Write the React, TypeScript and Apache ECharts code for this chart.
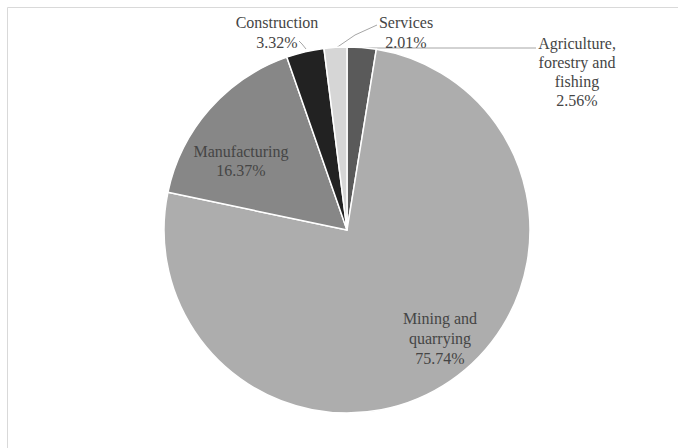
import React, { useEffect, useRef } from "react";
import * as echarts from "echarts";

const categories = [
  "Agriculture,\nforestry and\nfishing",
  "Mining and\nquarrying",
  "Manufacturing",
  "Construction",
  "Services",
];
const shares = [2.56, 75.74, 16.37, 3.32, 2.01];
const colors = ["#5a5a5a", "#adadad", "#878787", "#222222", "#d6d6d6"];
const insideLabel = [false, true, true, false, false];

// label anchor offsets relative to pie centre (layout only)
const CX = 347;
const CY = 230;
const R = 183;
const labelOffsets: number[][] = [
  [230, -158],
  [93, 108],
  [-106, -69],
  [-70, -198],
  [59, -198],
];
const lineHeights = [19, 20, 19, 20, 20];
const FONT = "Liberation Serif";

export default function App() {
  const ref = useRef<HTMLDivElement>(null);
  useEffect(() => {
    if (!ref.current) return;
    const chart = echarts.init(ref.current, undefined, { renderer: "svg" });
    const data = shares.map((v, i) => ({
      name: categories[i],
      value: v,
      itemStyle: { color: colors[i] },
      label: { lineHeight: lineHeights[i], fontFamily: FONT, fontSize: 16 },
      labelLine: { show: !insideLabel[i] },
    }));
    const topY = CY - R + 0;
    chart.setOption({
      animation: false,
      backgroundColor: "#ffffff",
      textStyle: { fontFamily: FONT },
      graphic: [
        {
          type: "rect",
          shape: { x: 7.5, y: 7.5, width: 700, height: 500 },
          style: { fill: "none", stroke: "#d9d9d9", lineWidth: 1 },
          silent: true,
        },
      ],
      series: [
        {
          type: "pie",
          center: [CX, CY],
          radius: [0, R],
          startAngle: 90,
          clockwise: true,
          avoidLabelOverlap: false,
          itemStyle: { borderColor: "#ffffff", borderWidth: 1.5 },
          label: {
            show: true,
            position: "outside",
            formatter: (p: any) => `${p.name}\n${p.value.toFixed(2)}%`,
            fontFamily: FONT,
            fontSize: 16,
            color: "#454545",
            align: "center",
          },
          labelLine: {
            show: true,
            lineStyle: { color: "#a6a6a6", width: 1 },
          },
          labelLayout: (params: any) => {
            const i = params.dataIndex;
            const [dx, dy] = labelOffsets[i];
            const res: any = {
              x: CX + dx,
              y: CY + dy,
              align: "center",
              verticalAlign: "middle",
            };
            if (i === 0) {
              res.labelLinePoints = [
                [CX + 14, topY + 1],
                [CX + 100, topY + 1],
                [CX + 189, topY + 1],
              ];
            } else if (i === 4) {
              res.labelLinePoints = [
                [CX - 11, topY + 1],
                [CX + 8, CY - 195],
                [CX + 30, CY - 205],
              ];
            } else if (i === 3) {
              res.labelLinePoints = [
                [CX - 41, topY + 2],
                [CX - 45, CY - 186],
                [CX - 48, CY - 189],
              ];
            }
            return res;
          },
          data,
        },
      ],
    });
    return () => chart.dispose();
  }, []);
  return (
    <div
      ref={ref}
      style={{ position: "fixed", left: 0, top: 0, width: 678, height: 448 }}
    />
  );
}
